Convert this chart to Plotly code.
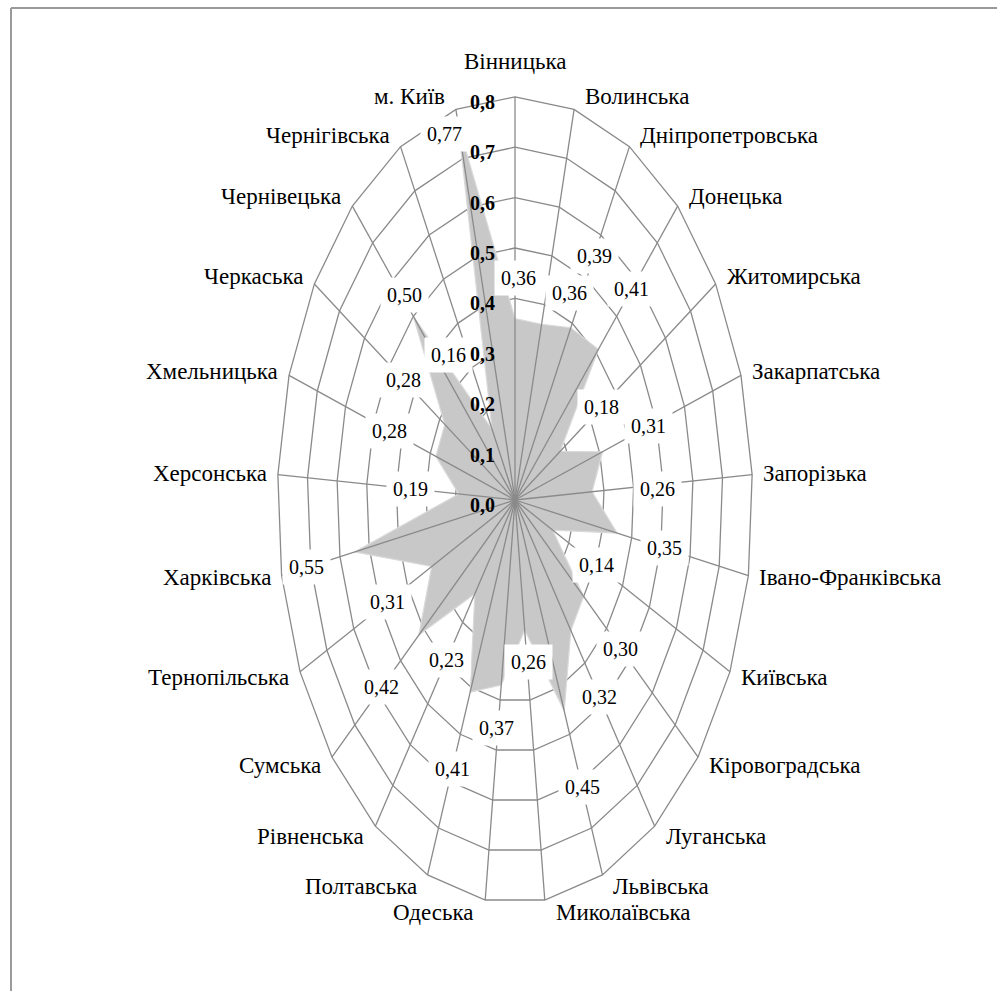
import numpy as np
import plotly.graph_objects as go

# Regions (clockwise from the top) and their index values
regions = ["Вінницька", "Волинська", "Дніпропетровська", "Донецька", "Житомирська",
           "Закарпатська", "Запорізька", "Івано-Франківська", "Київська", "Кіровоградська",
           "Луганська", "Львівська", "Миколаївська", "Одеська", "Полтавська", "Рівненська",
           "Сумська", "Тернопільська", "Харківська", "Херсонська", "Хмельницька",
           "Черкаська", "Чернівецька", "Чернігівська", "м. Київ"]
index_values = [0.36, 0.36, 0.39, 0.41, 0.18, 0.31, 0.26, 0.35, 0.14, 0.30, 0.32, 0.45,
                0.26, 0.37, 0.41, 0.23, 0.42, 0.31, 0.55, 0.19, 0.28, 0.28, 0.50, 0.16, 0.77]
radial_ticks = [0.0, 0.1, 0.2, 0.3, 0.4, 0.5, 0.6, 0.7, 0.8]

# ---- page geometry: an elliptical radar drawn on plain x/y axes ----
W, H = 997, 991
CX, CY = 515, 500          # pixel position of the centre
KX, KY = 297, 504          # pixels per index unit, horizontally / vertically
R_MAX = radial_ticks[-1]

FONT = "Liberation Serif"
GRID = "#8a8a8a"

n = len(regions)
deg = np.arange(n) * 360.0 / n
theta = np.deg2rad(deg)


def polar_xy(r, ang_deg):
    a = np.deg2rad(ang_deg)
    return r * np.sin(a), r * np.cos(a)


fig = go.Figure()

# concentric polygon rings
rx, ry = [], []
for t in radial_ticks[1:]:
    px = list(t * np.sin(theta)) + [t * np.sin(theta[0])]
    py = list(t * np.cos(theta)) + [t * np.cos(theta[0])]
    rx += px + [None]
    ry += py + [None]
fig.add_trace(go.Scatter(x=rx, y=ry, mode="lines", line=dict(color=GRID, width=1.3),
                         hoverinfo="skip", showlegend=False))

# filled data area
vals = np.array(index_values)
fx = list(vals * np.sin(theta)) + [vals[0] * np.sin(theta[0])]
fy = list(vals * np.cos(theta)) + [vals[0] * np.cos(theta[0])]
fig.add_trace(go.Scatter(x=fx, y=fy, mode="lines", fill="toself",
                         fillcolor="#c8c8c8", line=dict(color="#dadada", width=1.2),
                         hoverinfo="skip", showlegend=False))

# spokes, drawn over the fill
sx, sy = [], []
for th in theta:
    sx += [0, R_MAX * np.sin(th), None]
    sy += [0, R_MAX * np.cos(th), None]
fig.add_trace(go.Scatter(x=sx, y=sy, mode="lines", line=dict(color=GRID, width=1.3),
                         hoverinfo="skip", showlegend=False))

annotations = []

# category labels around the outer ring
for name, d in zip(regions, deg):
    x, y = polar_xy(R_MAX, d)
    if d == 0:
        annotations.append(dict(x=x, y=y, text=name, showarrow=False, xanchor="center",
                                yanchor="bottom", yshift=21,
                                font=dict(family=FONT, size=23, color="black")))
    else:
        right = d < 180
        annotations.append(dict(x=x, y=y, text=name, showarrow=False,
                                xanchor="left" if right else "right",
                                xshift=9 if right else -9,
                                yanchor="middle", yshift=13 * np.cos(np.deg2rad(d)),
                                font=dict(family=FONT, size=23, color="black")))

# value labels: placed outward along each spoke, a few moved by hand
LABEL_GAP = 0.163
label_moves = {
    "Вінницька": (0.44, 1.5),
    "Волинська": (0.45, 24.0),
    "Запорізька": (0.48, 87.5),
    "Миколаївська": (0.324, 172.0),
    "Одеська": (0.457, 188.0),
    "Чернівецька": (0.551, 317.6),
    "Чернігівська": (0.366, 322.0),
    "м. Київ": (0.764, 342.0),
}
for name, v, d in zip(regions, index_values, deg):
    r_lab, a_lab = label_moves.get(name, (v + LABEL_GAP, d))
    x, y = polar_xy(r_lab, a_lab)
    annotations.append(dict(x=x, y=y, text=f"{v:.2f}".replace(".", ","), showarrow=False,
                            xanchor="center", yanchor="middle", bgcolor="white",
                            borderpad=6,
                            font=dict(family=FONT, size=20, color="black")))

# radial scale labels along the upward spoke
for t in radial_ticks:
    annotations.append(dict(x=0, y=t, text=f"<b>{t:.1f}</b>".replace(".", ","),
                            showarrow=False, xanchor="right", xshift=-18, yshift=-5,
                            yanchor="middle",
                            font=dict(family=FONT, size=20, color="black")))

fig.update_layout(
    width=W, height=H, autosize=False,
    margin=dict(l=0, r=0, t=0, b=0),
    paper_bgcolor="white", plot_bgcolor="white",
    xaxis=dict(range=[-CX / KX, (W - CX) / KX], visible=False, fixedrange=True),
    yaxis=dict(range=[-(H - CY) / KY, CY / KY], visible=False, fixedrange=True),
    annotations=annotations,
    shapes=[
        dict(type="line", xref="paper", yref="paper", x0=11 / W, x1=11 / W,
             y0=0, y1=1 - 8 / H, line=dict(color="#9a9a9a", width=2)),
        dict(type="line", xref="paper", yref="paper", x0=11 / W, x1=1,
             y0=1 - 8 / H, y1=1 - 8 / H, line=dict(color="#9a9a9a", width=2)),
    ],
    showlegend=False,
)

fig.write_html("out.html")
